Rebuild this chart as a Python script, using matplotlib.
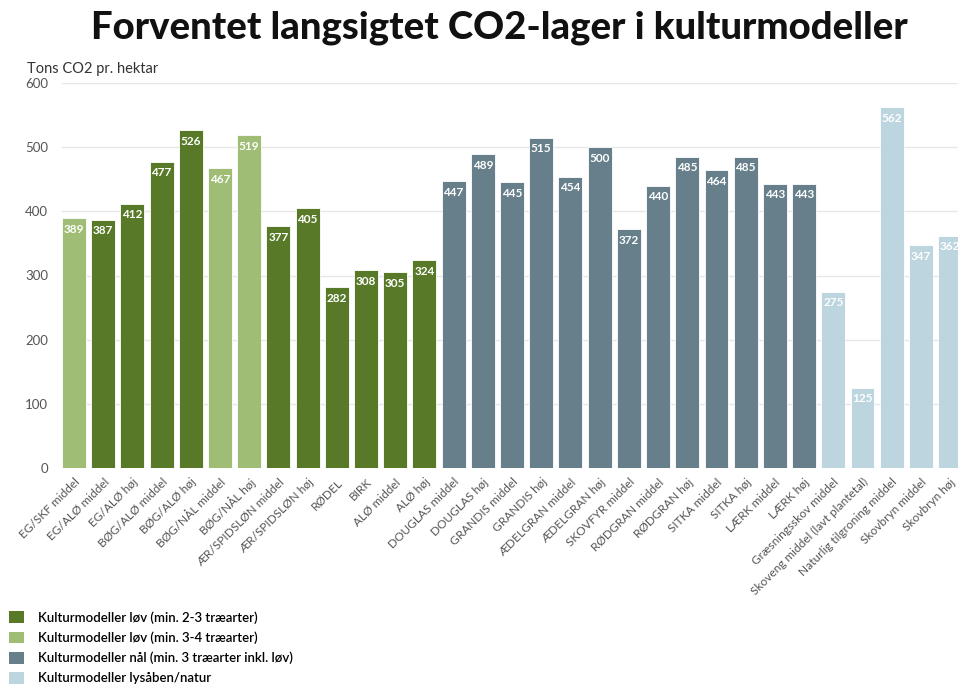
import matplotlib
matplotlib.use("Agg")
import matplotlib.pyplot as plt
from matplotlib.patches import Patch

categories = [
    "EG/SKF middel", "EG/ALØ middel", "EG/ALØ høj", "BØG/ALØ middel", "BØG/ALØ høj",
    "BØG/NÅL middel", "BØG/NÅL høj", "ÆR/SPIDSLØN middel", "ÆR/SPIDSLØN høj", "RØDEL",
    "BIRK", "ALØ middel", "ALØ høj",
    "DOUGLAS middel", "DOUGLAS høj", "GRANDIS middel", "GRANDIS høj", "ÆDELGRAN middel",
    "ÆDELGRAN høj", "SKOVFYR middel", "RØDGRAN middel", "RØDGRAN høj", "SITKA middel",
    "SITKA høj", "LÆRK middel", "LÆRK høj",
    "Græsningsskov middel", "Skoveng middel (lavt plantetal)", "Naturlig tilgroning middel",
    "Skovbryn middel", "Skovbryn høj",
]
values = [389, 387, 412, 477, 526, 467, 519, 377, 405, 282, 308, 305, 324,
          447, 489, 445, 515, 454, 500, 372, 440, 485, 464, 485, 443, 443,
          275, 125, 562, 347, 362]
# group index per bar: 0 = løv 2-3, 1 = løv 3-4, 2 = nål, 3 = lysåben/natur
groups = [1, 0, 0, 0, 0, 1, 1, 0, 0, 0, 0, 0, 0,
          2, 2, 2, 2, 2, 2, 2, 2, 2, 2, 2, 2, 2,
          3, 3, 3, 3, 3]
group_labels = [
    "Kulturmodeller løv (min. 2-3 træarter)",
    "Kulturmodeller løv (min. 3-4 træarter)",
    "Kulturmodeller nål (min. 3 træarter inkl. løv)",
    "Kulturmodeller lysåben/natur",
]
group_colors = ["#587a28", "#9fbd74", "#677f8b", "#bdd5de"]

plt.rcParams["font.family"] = ["Lato", "DejaVu Sans"]

fig = plt.figure(figsize=(9.58, 6.87), dpi=100)
ax = fig.add_axes([62 / 958, 1 - 468 / 687, 1 - 62 / 958, (468 - 83) / 687])

x = list(range(len(values)))
colors = [group_colors[g] for g in groups]
ax.bar(x, values, width=0.82, color=colors, edgecolor="white", linewidth=0.6, zorder=3)

for xi, v in zip(x, values):
    ax.annotate(str(v), (xi, v), xytext=(0, -4), textcoords="offset points",
                ha="center", va="top", color="white", fontsize=8.5, fontweight="bold", zorder=4)

ax.set_xlim(-0.41, 30.27)
ax.set_ylim(0, 600)
ax.set_yticks(range(0, 601, 100))
ax.yaxis.grid(True, color="#e6e6e6", linewidth=1, zorder=0)
ax.set_axisbelow(True)
for s in ax.spines.values():
    s.set_visible(False)
ax.tick_params(axis="both", length=0, colors="#555555", labelsize=9.5)
ax.tick_params(axis="y", pad=10)
ax.set_xticks(x)
ax.set_xticklabels(categories, rotation=45, ha="right", rotation_mode="anchor",
                   fontsize=8.6, color="#555555")
ax.tick_params(axis="x", pad=6)

fig.text(499 / 958, 1 - 28 / 687, "Forventet langsigtet CO2-lager i kulturmodeller",
         ha="center", va="center", fontsize=27.5, fontweight="black", color="#111111")
fig.text(27 / 958, 1 - 69 / 687, "Tons CO2 pr. hektar", ha="left", va="center",
         fontsize=10.5, color="#333333")

handles = [Patch(facecolor=c, edgecolor="none") for c in group_colors]
fig.legend(handles, group_labels, loc="upper left", bbox_to_anchor=(0.0, 1 - 602 / 687),
           frameon=False, prop={"size": 9.5, "weight": "semibold"}, handlelength=1.15,
           handleheight=1.0, labelspacing=0.58, handletextpad=1.0, borderaxespad=0.3)

fig.savefig("out.png", dpi=100)
